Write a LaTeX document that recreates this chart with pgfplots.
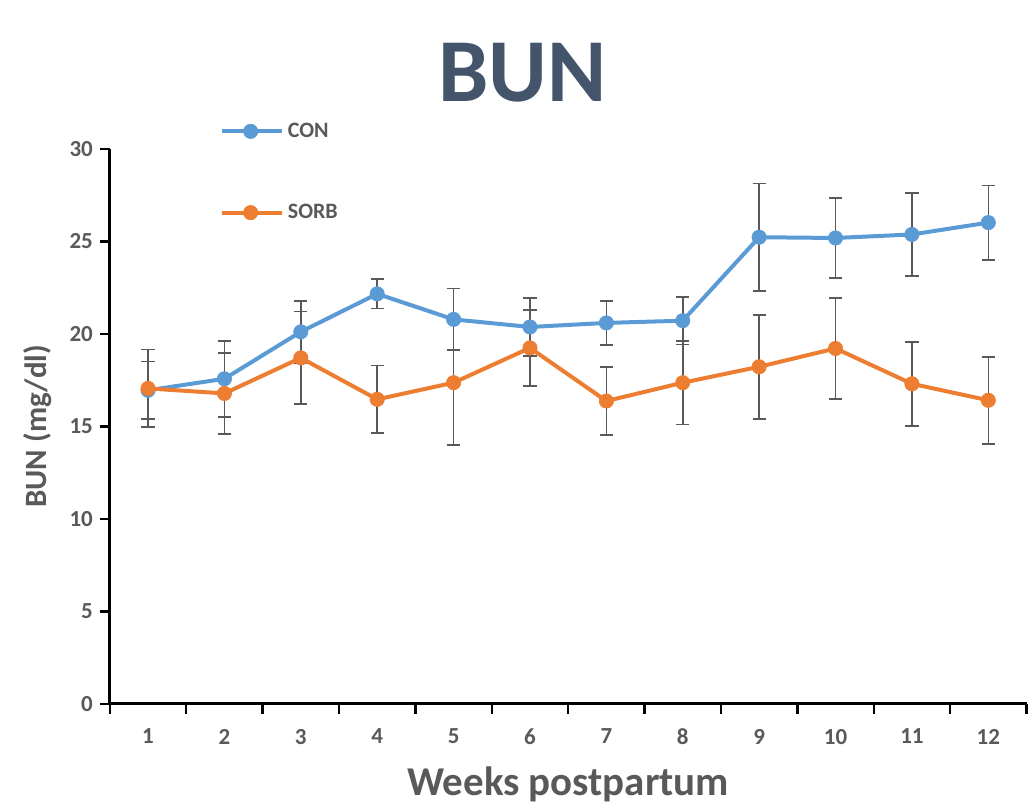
\documentclass[border=0pt]{standalone}
\usepackage{pgfplots}
\usepackage{pgfplotstable}
\pgfplotsset{compat=1.18}
\usepackage{fontspec}
\setmainfont{Carlito}
\definecolor{conblue}{HTML}{5B9BD5}
\definecolor{sorborange}{HTML}{ED7D31}
\definecolor{txtgray}{HTML}{595959}
\definecolor{errgray}{HTML}{595959}
\definecolor{titlecol}{HTML}{44546A}
\pgfplotstableread{
x con conerr sorb sorberr
1 16.95 1.55 17.05 2.10
2 17.57 2.05 16.78 2.20
3 20.11 1.67 18.70 2.50
4 22.16 0.80 16.46 1.82
5 20.78 1.66 17.36 3.38
6 20.37 1.58 19.24 2.05
7 20.59 1.19 16.37 1.85
8 20.71 1.28 17.36 2.25
9 25.22 2.91 18.22 2.81
10 25.18 2.16 19.21 2.72
11 25.37 2.24 17.30 2.27
12 26.01 2.01 16.41 2.35
}\datatable
\begin{document}
\begin{tikzpicture}
\begin{axis}[
  name=ax,
  scale only axis,
  width=459pt, height=278pt,
  xmin=0.5, xmax=12.5,
  ymin=0, ymax=30,
  axis x line*=bottom, axis y line*=left,
  axis line style={line width=1.5pt, black},
  xtick={1,...,12},
  minor xtick={0.5,1.5,...,12.5},
  major x tick style={draw=none},
  minor x tick style={line width=1.2pt, black},
  minor tick length=5pt,
  ytick={0,5,...,30},
  y tick style={line width=1.2pt, black},
  major tick length=5pt,
  tick align=outside,
  tick label style={font=\bfseries\fontsize{11.5}{13}\selectfont, text=txtgray},
  /pgf/number format/assume math mode=true,
  xticklabel style={yshift=-4pt},
  xlabel={Weeks postpartum},
  xlabel style={font=\bfseries\fontsize{20.5}{24}\selectfont, text=txtgray, yshift=-4pt},
  ylabel={BUN (mg/dl)},
  ylabel style={font=\bfseries\fontsize{15.5}{18}\selectfont, text=txtgray, yshift=2pt},
  clip=false,
  legend style={at={(axis description cs:0.12,1.055)}, anchor=north west, draw=none, fill=none,
    font=\bfseries\fontsize{11}{13}\selectfont, text=txtgray, row sep=28pt,
    inner sep=0pt, /tikz/every even column/.append style={column sep=1pt}},
  legend cell align=left,
  legend image code/.code={
    \draw[#1, mark=none] (0cm,0cm) -- (1.05cm,0cm);
    \draw[#1, only marks] plot coordinates {(0.5cm,0cm)};
  },
]
\addplot[draw=none, mark=none, forget plot,
  error bars/.cd, y dir=both, y explicit,
  error mark options={rotate=90, mark size=3.3pt, line width=0.8pt, errgray},
  error bar style={line width=0.8pt, errgray, draw=errgray}]
  table[x=x, y=con, y error=conerr] {\datatable};
\addplot[draw=none, mark=none, forget plot,
  error bars/.cd, y dir=both, y explicit,
  error mark options={rotate=90, mark size=3.3pt, line width=0.8pt, errgray},
  error bar style={line width=0.8pt, errgray, draw=errgray}]
  table[x=x, y=sorb, y error=sorberr] {\datatable};
\addplot[conblue, line width=2pt, mark=*, mark size=3.6pt, mark options={conblue, solid, line width=0.3pt}]
  table[x=x, y=con] {\datatable};
\addlegendentry{CON}
\addplot[sorborange, line width=2pt, mark=*, mark size=3.6pt, mark options={sorborange, solid, line width=0.3pt}]
  table[x=x, y=sorb] {\datatable};
\addlegendentry{SORB}
\end{axis}
\node[font=\bfseries\fontsize{45}{52}\selectfont, text=titlecol, anchor=center] at ([yshift=38pt,xshift=-23pt]ax.north) {BUN};
\path (ax.south west) ++(-55pt,-50pt) rectangle ++(514pt,402.5pt);
\end{tikzpicture}
\end{document}
